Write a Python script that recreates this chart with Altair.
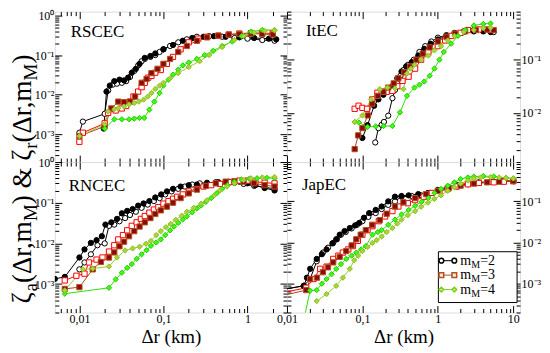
import altair as alt
import pandas as pd

SERIF = "Liberation Serif"
SERIES = ["m2_a", "m2_r", "m3_a", "m3_r", "m4_a", "m4_r"]
LINE_COLORS = ["#000000", "#000000", "#ff0000", "#a8461a", "#2ee000", "#9ccc2a"]
STROKE_COLORS = ["#000000", "#000000", "#ff0000", "#b3521e", "#25c800", "#8fbf20"]
FILL_COLORS = ["#ffffff", "#000000", "#ffffff", "#8b0a0a", "#3cff14", "#a6d63a"]
SHAPES = ["circle", "circle", "square", "square", "diamond", "diamond"]

# ---------------- RSCEC (top left) ----------------
RSCEC = [
    ([0.01, 0.011, 0.02, 0.022, 0.025, 0.028, 0.032, 0.036, 0.04, 0.045, 0.05, 0.055, 0.06, 0.07, 0.08, 0.09, 0.1, 0.12, 0.15, 0.19, 0.25, 0.35, 0.5, 0.7, 1.0, 1.5, 2.1],
     [0.0011, 0.0021, 0.0033, 0.0128, 0.018, 0.019, 0.02, 0.022, 0.028, 0.04, 0.055, 0.07, 0.08, 0.09, 0.1, 0.12, 0.14, 0.17, 0.21, 0.25, 0.29, 0.3, 0.29, 0.27, 0.26, 0.24, 0.23]),
    ([0.0195, 0.021, 0.023, 0.026, 0.03, 0.034, 0.038, 0.042, 0.047, 0.052, 0.06, 0.07, 0.08, 0.1, 0.13, 0.17, 0.22, 0.3, 0.4, 0.55, 0.8, 1.2, 1.8, 2.2],
     [0.0014, 0.012, 0.017, 0.022, 0.024, 0.023, 0.027, 0.036, 0.045, 0.06, 0.085, 0.095, 0.11, 0.14, 0.18, 0.23, 0.27, 0.29, 0.3, 0.29, 0.28, 0.27, 0.26, 0.25]),
    ([0.01, 0.011, 0.02, 0.022, 0.027, 0.032, 0.036, 0.04, 0.044, 0.05, 0.055, 0.06, 0.066, 0.072, 0.08, 0.093, 0.11, 0.13, 0.16, 0.2, 0.26, 0.33, 0.45, 0.6, 0.8, 1.1, 1.5, 2.0],
     [0.00065, 0.0011, 0.0019, 0.0035, 0.004, 0.0045, 0.0052, 0.0067, 0.009, 0.012, 0.0155, 0.02, 0.027, 0.03, 0.036, 0.042, 0.06, 0.09, 0.14, 0.21, 0.26, 0.29, 0.31, 0.33, 0.35, 0.36, 0.36, 0.35]),
    ([0.01, 0.02, 0.024, 0.029, 0.034, 0.04, 0.046, 0.055, 0.063, 0.072, 0.085, 0.1, 0.12, 0.15, 0.19, 0.25, 0.33, 0.45, 0.6, 0.8, 1.1, 1.5, 2.0],
     [0.0009, 0.0016, 0.0045, 0.0067, 0.0065, 0.0067, 0.009, 0.02, 0.025, 0.035, 0.045, 0.06, 0.08, 0.12, 0.17, 0.23, 0.28, 0.31, 0.33, 0.34, 0.35, 0.34, 0.33]),
    ([0.02, 0.026, 0.032, 0.039, 0.045, 0.052, 0.059, 0.068, 0.078, 0.09, 0.1, 0.115, 0.13, 0.15, 0.17, 0.2, 0.25, 0.31, 0.39, 0.5, 0.66, 0.85, 1.1, 1.5, 2.1],
     [0.0014, 0.0024, 0.0024, 0.0024, 0.0025, 0.0026, 0.0026, 0.0042, 0.0067, 0.011, 0.017, 0.024, 0.032, 0.043, 0.055, 0.065, 0.08, 0.1, 0.128, 0.17, 0.22, 0.3, 0.39, 0.43, 0.43]),
    ([0.01, 0.02, 0.022, 0.026, 0.029, 0.034, 0.039, 0.045, 0.051, 0.058, 0.065, 0.072, 0.08, 0.09, 0.1, 0.12, 0.15, 0.2, 0.27, 0.35, 0.5, 0.7, 0.9, 1.2, 1.6, 2.1],
     [0.0009, 0.0018, 0.0038, 0.0043, 0.0046, 0.005, 0.0057, 0.0062, 0.0067, 0.0075, 0.009, 0.011, 0.014, 0.017, 0.02, 0.026, 0.035, 0.05, 0.07, 0.1, 0.16, 0.24, 0.3, 0.37, 0.41, 0.42]),
]

# ---------------- ItEC (top right) ----------------
ITEC = [
    ([0.148, 0.163, 0.18, 0.193, 0.22, 0.25, 0.27, 0.29, 0.32, 0.35, 0.4, 0.48, 0.57, 0.68, 0.82, 1.0, 1.3, 1.66, 2.2, 3.0, 4.0, 5.5],
     [0.0028, 0.0052, 0.006, 0.0068, 0.0089, 0.019, 0.027, 0.036, 0.05, 0.064, 0.08, 0.1, 0.14, 0.18, 0.22, 0.26, 0.29, 0.32, 0.34, 0.36, 0.35, 0.33]),
    ([0.1, 0.117, 0.143, 0.163, 0.19, 0.22, 0.25, 0.29, 0.33, 0.38, 0.45, 0.55, 0.66, 0.8, 1.0, 1.3, 1.7, 2.2, 3.0, 4.0, 5.0],
     [0.0034, 0.0059, 0.0137, 0.018, 0.022, 0.026, 0.032, 0.045, 0.06, 0.075, 0.09, 0.12, 0.16, 0.2, 0.24, 0.28, 0.31, 0.33, 0.34, 0.34, 0.33]),
    ([0.079, 0.089, 0.1, 0.115, 0.135, 0.158, 0.18, 0.21, 0.25, 0.29, 0.34, 0.41, 0.5, 0.6, 0.75, 1.0, 1.25, 1.5, 2.0, 2.5, 3.5, 5.0],
     [0.012, 0.0137, 0.0125, 0.012, 0.018, 0.024, 0.025, 0.025, 0.026, 0.032, 0.04, 0.048, 0.068, 0.1, 0.14, 0.18, 0.23, 0.28, 0.32, 0.36, 0.37, 0.36]),
    ([0.079, 0.088, 0.1, 0.118, 0.135, 0.16, 0.19, 0.22, 0.26, 0.3, 0.36, 0.43, 0.52, 0.63, 0.78, 1.0, 1.3, 1.7, 2.3, 3.2, 4.5, 5.5],
     [0.0021, 0.0038, 0.0052, 0.009, 0.015, 0.021, 0.025, 0.03, 0.036, 0.045, 0.058, 0.075, 0.1, 0.13, 0.17, 0.22, 0.27, 0.31, 0.34, 0.36, 0.37, 0.36]),
    ([0.079, 0.09, 0.117, 0.15, 0.19, 0.25, 0.315, 0.39, 0.49, 0.57, 0.66, 0.78, 0.9, 1.05, 1.2, 1.5, 1.85, 2.3, 3.0, 4.0, 5.0],
     [0.0068, 0.0066, 0.0055, 0.0056, 0.0057, 0.0057, 0.0103, 0.021, 0.03, 0.034, 0.039, 0.05, 0.068, 0.1, 0.14, 0.2, 0.28, 0.36, 0.44, 0.47, 0.48]),
    ([0.079, 0.1, 0.13, 0.17, 0.215, 0.27, 0.35, 0.39, 0.44, 0.49, 0.6, 0.75, 0.9, 1.1, 1.35, 1.66, 2.2, 3.0, 4.0, 5.0],
     [0.0068, 0.009, 0.018, 0.028, 0.03, 0.029, 0.028, 0.055, 0.068, 0.08, 0.1, 0.12, 0.15, 0.18, 0.23, 0.28, 0.33, 0.36, 0.39, 0.4]),
]

# ---------------- RNCEC (bottom left) ----------------
RNCEC = [
    ([0.01, 0.0115, 0.0137, 0.0164, 0.02, 0.0225, 0.026, 0.03, 0.035, 0.04, 0.047, 0.055, 0.065, 0.077, 0.09, 0.105, 0.125, 0.15, 0.18, 0.22, 0.27, 0.33, 0.42, 0.55, 0.7, 0.9, 1.2, 1.6, 2.1],
     [0.0023, 0.0034, 0.0054, 0.009, 0.01, 0.027, 0.029, 0.035, 0.042, 0.05, 0.06, 0.075, 0.09, 0.11, 0.13, 0.16, 0.19, 0.22, 0.25, 0.28, 0.3, 0.31, 0.32, 0.32, 0.31, 0.29, 0.26, 0.24, 0.22]),
    ([0.0051, 0.0067, 0.01, 0.0115, 0.0137, 0.016, 0.0185, 0.0204, 0.024, 0.028, 0.032, 0.037, 0.043, 0.05, 0.058, 0.068, 0.08, 0.094, 0.11, 0.13, 0.16, 0.2, 0.25, 0.33, 0.45, 0.6, 0.8, 1.0, 1.24, 1.6, 2.1],
     [0.00134, 0.0015, 0.0045, 0.0071, 0.0103, 0.012, 0.015, 0.029, 0.033, 0.04, 0.055, 0.063, 0.07, 0.085, 0.096, 0.11, 0.135, 0.16, 0.19, 0.22, 0.25, 0.27, 0.28, 0.3, 0.32, 0.33, 0.33, 0.3, 0.27, 0.23, 0.2]),
    ([0.0067, 0.0092, 0.0115, 0.013, 0.016, 0.0188, 0.0225, 0.026, 0.029, 0.033, 0.037, 0.042, 0.048, 0.054, 0.06, 0.068, 0.077, 0.087, 0.1, 0.115, 0.13, 0.146, 0.17, 0.2, 0.25, 0.3, 0.37, 0.47, 0.6, 0.8, 1.0, 1.24, 1.6, 2.1],
     [0.00123, 0.0016, 0.0018, 0.0034, 0.004, 0.0045, 0.0063, 0.009, 0.0125, 0.016, 0.021, 0.027, 0.033, 0.04, 0.047, 0.057, 0.068, 0.078, 0.095, 0.11, 0.125, 0.14, 0.16, 0.19, 0.22, 0.25, 0.27, 0.29, 0.32, 0.35, 0.35, 0.33, 0.31, 0.3]),
    ([0.0067, 0.01, 0.0144, 0.018, 0.0225, 0.026, 0.03, 0.034, 0.039, 0.045, 0.052, 0.06, 0.07, 0.08, 0.093, 0.11, 0.13, 0.16, 0.2, 0.25, 0.32, 0.42, 0.55, 0.7, 0.9, 1.2, 1.6, 2.1],
     [0.00076, 0.00084, 0.0023, 0.0035, 0.0045, 0.006, 0.0085, 0.011, 0.015, 0.02, 0.026, 0.033, 0.042, 0.053, 0.065, 0.08, 0.1, 0.13, 0.17, 0.21, 0.26, 0.3, 0.33, 0.34, 0.33, 0.3, 0.27, 0.25]),
    ([0.0067, 0.0225, 0.027, 0.032, 0.037, 0.042, 0.048, 0.055, 0.063, 0.071, 0.082, 0.093, 0.105, 0.12, 0.134, 0.15, 0.17, 0.19, 0.22, 0.25, 0.28, 0.32, 0.37, 0.43, 0.5, 0.58, 0.7, 0.85, 1.05, 1.3, 1.7, 2.1],
     [0.00058, 0.00081, 0.0013, 0.0019, 0.0025, 0.0031, 0.0042, 0.0054, 0.0068, 0.0087, 0.0105, 0.0125, 0.016, 0.021, 0.026, 0.032, 0.039, 0.046, 0.058, 0.072, 0.085, 0.105, 0.13, 0.17, 0.22, 0.27, 0.33, 0.37, 0.39, 0.4, 0.41, 0.4]),
    ([0.0067, 0.011, 0.0144, 0.0225, 0.028, 0.035, 0.043, 0.052, 0.062, 0.071, 0.082, 0.093, 0.107, 0.122, 0.14, 0.165, 0.19, 0.23, 0.28, 0.33, 0.4, 0.47, 0.57, 0.7, 0.9, 1.1, 1.5, 2.1],
     [0.0007, 0.0023, 0.0024, 0.0027, 0.0045, 0.0067, 0.0075, 0.0083, 0.0098, 0.0115, 0.016, 0.02, 0.025, 0.03, 0.038, 0.048, 0.06, 0.075, 0.095, 0.115, 0.15, 0.2, 0.25, 0.3, 0.36, 0.4, 0.42, 0.43]),
]

# ---------------- JapEC (bottom right) ----------------
JAPEC = [
    ([0.0055, 0.0167, 0.0203, 0.0248, 0.03, 0.035, 0.041, 0.046, 0.052, 0.06, 0.072, 0.085, 0.1, 0.12, 0.15, 0.18, 0.22, 0.27, 0.33, 0.45, 0.6, 0.8, 1.0, 1.35, 1.8, 2.5, 3.5, 5.0, 7.0, 10.0],
     [0.00062, 0.00089, 0.0013, 0.0035, 0.0057, 0.0075, 0.0098, 0.012, 0.0155, 0.018, 0.022, 0.027, 0.033, 0.042, 0.052, 0.065, 0.082, 0.1, 0.13, 0.135, 0.14, 0.16, 0.18, 0.2, 0.23, 0.26, 0.28, 0.3, 0.31, 0.31]),
    ([0.0055, 0.0167, 0.0184, 0.0203, 0.0248, 0.029, 0.0335, 0.04, 0.045, 0.05, 0.058, 0.068, 0.08, 0.091, 0.105, 0.123, 0.15, 0.18, 0.22, 0.27, 0.33, 0.41, 0.55, 0.74, 1.0, 1.35, 1.8, 2.5, 3.5, 5.5, 7.5, 10.0],
     [0.00062, 0.00089, 0.0014, 0.0023, 0.004, 0.0052, 0.0068, 0.0095, 0.012, 0.0155, 0.019, 0.0225, 0.026, 0.03, 0.04, 0.052, 0.062, 0.075, 0.1, 0.13, 0.135, 0.14, 0.15, 0.16, 0.19, 0.22, 0.25, 0.27, 0.29, 0.3, 0.31, 0.31]),
    ([0.0055, 0.018, 0.0225, 0.0275, 0.0335, 0.041, 0.048, 0.055, 0.065, 0.075, 0.087, 0.1, 0.117, 0.136, 0.165, 0.2, 0.25, 0.3, 0.4, 0.5, 0.65, 0.83, 1.05, 1.35, 1.8, 2.5, 3.5, 5.5, 7.5, 10.0],
     [0.0005, 0.0008, 0.0013, 0.0023, 0.0026, 0.004, 0.0048, 0.0057, 0.0068, 0.0082, 0.011, 0.0155, 0.02, 0.025, 0.033, 0.043, 0.058, 0.075, 0.09, 0.107, 0.13, 0.16, 0.18, 0.2, 0.23, 0.26, 0.28, 0.29, 0.3, 0.31]),
    ([0.0055, 0.018, 0.0203, 0.025, 0.03, 0.035, 0.041, 0.05, 0.061, 0.072, 0.083, 0.095, 0.111, 0.135, 0.17, 0.21, 0.27, 0.35, 0.5, 0.7, 1.0, 1.4, 2.0, 3.0, 4.5, 6.5, 10.0],
     [0.00042, 0.0007, 0.0013, 0.0014, 0.0019, 0.0025, 0.0033, 0.0045, 0.0062, 0.0085, 0.012, 0.0155, 0.02, 0.027, 0.035, 0.05, 0.075, 0.095, 0.12, 0.15, 0.18, 0.21, 0.24, 0.27, 0.29, 0.3, 0.31]),
    ([0.0165, 0.0203, 0.0248, 0.029, 0.0335, 0.039, 0.045, 0.052, 0.061, 0.072, 0.083, 0.096, 0.111, 0.136, 0.16, 0.18, 0.22, 0.27, 0.33, 0.41, 0.5, 0.61, 0.75, 0.9, 1.1, 1.35, 1.65, 2.0, 2.5, 3.0, 4.0, 5.5, 8.0, 10.0],
     [0.00012, 0.00068, 0.0007, 0.001, 0.0013, 0.0017, 0.0023, 0.003, 0.004, 0.0048, 0.0057, 0.0068, 0.0082, 0.0155, 0.018, 0.02, 0.027, 0.036, 0.048, 0.062, 0.078, 0.098, 0.12, 0.16, 0.2, 0.24, 0.29, 0.35, 0.38, 0.4, 0.41, 0.4, 0.37, 0.36]),
    ([0.0248, 0.0335, 0.045, 0.055, 0.068, 0.078, 0.088, 0.1, 0.117, 0.136, 0.155, 0.18, 0.21, 0.25, 0.29, 0.33, 0.4, 0.5, 0.6, 0.74, 0.9, 1.1, 1.35, 1.65, 2.0, 2.5, 3.0, 3.7, 5.0, 6.5, 8.0, 10.0],
     [0.00038, 0.00056, 0.00089, 0.0014, 0.0023, 0.0037, 0.0048, 0.0062, 0.0078, 0.0098, 0.0115, 0.014, 0.018, 0.0225, 0.029, 0.036, 0.046, 0.058, 0.074, 0.093, 0.115, 0.14, 0.18, 0.22, 0.27, 0.32, 0.36, 0.38, 0.39, 0.38, 0.37, 0.36]),
]

LEGEND_LABELS = ["2", "3", "4"]
LEGEND_LINE = ["#000000", "#b4501e", "#7ccc1c"]
LEGEND_FILL = ["#ffffff", "#ffe8e8", "#ccff99"]
LEGEND_SHAPE = ["circle", "square", "diamond"]

MAJOR, MINOR = 7, 4
XEXPR = "datum.value < 0.05 ? '0,01' : datum.value < 0.5 ? '0,1' : datum.value < 5 ? '1' : '10'"
YEXPR = "datum.value > 0.5 ? '10\u2070' : datum.value > 0.05 ? '10\u207b\u00b9' : datum.value > 0.005 ? '10\u207b\u00b2' : '10\u207b\u00b3'"


def decades(lo, hi):
    return [10.0 ** k for k in range(-5, 3) if lo <= 10.0 ** k <= hi]


def minors(lo, hi):
    return [m * 10.0 ** k for k in range(-5, 3) for m in range(2, 10) if lo <= m * 10.0 ** k <= hi]


def axis(orient, values, size, labels, kind, title=None):
    kw = dict(orient=orient, values=values, tickSize=size, offset=-size, domain=False,
              grid=False, labels=labels, ticks=True, tickColor="black", tickWidth=1,
              title=title, labelPadding=1, labelFont=SERIF, labelFontSize=12,
              labelColor="black", titleFont=SERIF, titleFontSize=19,
              titleFontWeight="normal", titleColor="black", titlePadding=3,
              labelFlush=False, labelOverlap=False)
    if labels:
        kw["labelExpr"] = XEXPR if kind == "x" else YEXPR
    return alt.Axis(**kw)


def frame(series):
    rows = []
    for s, (xs, ys) in zip(SERIES, series):
        for x, y in zip(xs, ys):
            rows.append({"x": x, "y": y, "s": s})
    return pd.DataFrame(rows)


def one(v):
    return pd.DataFrame({"t": [v]})


def text_layer(txt, x, y, size, align="left", baseline="alphabetic", angle=0):
    kw = dict(align=align, baseline=baseline, font=SERIF, fontSize=size, color="black")
    if angle:
        kw["angle"] = angle
    return alt.Chart(one(txt)).mark_text(**kw).encode(
        x=alt.value(x), y=alt.value(y), text="t:N")


def panel(series, name, name_xy, xdom, ydom, w, h, bottom, right, extra=()):
    df = frame(series)
    xs = alt.Scale(type="log", domain=xdom, nice=False)
    ys = alt.Scale(type="log", domain=ydom, nice=False)
    xmaj, xmin = decades(*xdom), minors(*xdom)
    ymaj, ymin = decades(*ydom), minors(*ydom)
    lab_side = "right" if right else "left"
    other_side = "left" if right else "right"

    lines = alt.Chart(df).mark_line(clip=True, strokeWidth=1).encode(
        x=alt.X("x:Q", scale=xs, axis=axis("bottom", xmaj, MAJOR, bottom, "x",
                                            "\u0394r (km)" if bottom else None)),
        y=alt.Y("y:Q", scale=ys, axis=axis(lab_side, ymaj, MAJOR, True, "y")),
        color=alt.Color("s:N", scale=alt.Scale(domain=SERIES, range=LINE_COLORS), legend=None),
    )
    pts = alt.Chart(df).mark_point(filled=True, clip=True, size=28, strokeWidth=1, opacity=1).encode(
        x=alt.X("x:Q", scale=xs, axis=axis("bottom", xmin, MINOR, False, "x")),
        y=alt.Y("y:Q", scale=ys, axis=axis(lab_side, ymin, MINOR, False, "y")),
        shape=alt.Shape("s:N", scale=alt.Scale(domain=SERIES, range=SHAPES), legend=None),
        fill=alt.Fill("s:N", scale=alt.Scale(domain=SERIES, range=FILL_COLORS), legend=None),
        stroke=alt.Stroke("s:N", scale=alt.Scale(domain=SERIES, range=STROKE_COLORS), legend=None),
    )
    g1 = alt.Chart(df).mark_point(opacity=0, clip=True).encode(
        x=alt.X("x:Q", scale=xs, axis=axis("top", xmaj, MAJOR, False, "x")),
        y=alt.Y("y:Q", scale=ys, axis=axis(other_side, ymaj, MAJOR, False, "y")),
    )
    g2 = alt.Chart(df).mark_point(opacity=0, clip=True).encode(
        x=alt.X("x:Q", scale=xs, axis=axis("top", xmin, MINOR, False, "x")),
        y=alt.Y("y:Q", scale=ys, axis=axis(other_side, ymin, MINOR, False, "y")),
    )
    lbl = text_layer(name, name_xy[0], name_xy[1], 17, baseline="middle")
    return alt.layer(lines, pts, g1, g2, lbl, *extra).properties(width=w, height=h).resolve_axis(
        x="independent", y="independent")


W_LEFT, W_RIGHT = 233, 234
H_TOP, H_BOTTOM = 151, 151


# ---- legend (bottom-right panel) ----
def legend_layers(w):
    out = [alt.Chart(one("box")).mark_rect(fill="white", stroke="black", strokeWidth=1).encode(
        x=alt.value(w - 82), x2=alt.value(w - 3), y=alt.value(90), y2=alt.value(141))]
    for i, lab in enumerate(LEGEND_LABELS):
        ry = 99 + 14.5 * i
        out.append(alt.Chart(one(lab)).mark_rule(color=LEGEND_LINE[i], strokeWidth=1).encode(
            x=alt.value(w - 79), x2=alt.value(w - 66), y=alt.value(ry)))
        for sx in (w - 79, w - 66):
            out.append(alt.Chart(one(lab)).mark_point(
                shape=LEGEND_SHAPE[i], filled=True, fill=LEGEND_FILL[i], stroke=LEGEND_LINE[i],
                strokeWidth=1.5, size=22, opacity=1).encode(x=alt.value(sx), y=alt.value(ry)))
        out.append(text_layer("m", w - 60, ry + 4, 14))
        out.append(text_layer("M", w - 49, ry + 7, 10))
        out.append(text_layer("=" + lab, w - 40, ry + 4, 14))
    return out


# ---- rotated y title (placed left of the bottom-left panel) ----
EM = {"\u03b6": 0.45, "a": 0.444, "(": 0.333, "\u0394": 0.612, "r": 0.333, ",": 0.25,
      "m": 0.778, "M": 0.889, ")": 0.333, " ": 0.25, "&": 0.778}
TITLE_PIECES = [("\u03b6", False), ("a", True), ("(\u0394r,m", False), ("M", True),
                (") & \u03b6", False), ("r", True), ("(\u0394r,m", False), ("M", True), (")", False)]


def title_layers(size=27, sub=19, base_x=-24, start_y=142):
    out, pos = [], 0.0
    for txt, is_sub in TITLE_PIECES:
        fs = sub if is_sub else size
        out.append(text_layer(txt, base_x + (6 if is_sub else 0), start_y - pos, fs, angle=270))
        pos += sum(EM.get(c, 0.5) for c in txt) * fs
    return out


TL = panel(RSCEC, "RSCEC", (16, 20), (0.0051, 2.95), (0.0002, 1.25), W_LEFT, H_TOP, False, False)
TR = panel(ITEC, "ItEC", (19, 19), (0.01, 12.3), (0.0012, 0.8), W_RIGHT, H_TOP, False, True)
BL = panel(RNCEC, "RNCEC", (14, 24), (0.0051, 2.95), (0.0002, 1.0), W_LEFT, H_BOTTOM, True, False,
           extra=title_layers())
BR = panel(JAPEC, "JapEC", (15, 23), (0.01, 12.3), (0.0002, 0.9), W_RIGHT, H_BOTTOM, True, True,
           extra=legend_layers(W_RIGHT))

chart = alt.concat(TL, TR, BL, BR, columns=2, spacing=0, bounds="flush").properties(
    padding={"left": 0, "top": 0, "right": 0, "bottom": 0}
).configure_view(stroke="black", strokeWidth=1.4).configure(font=SERIF)

chart.save("out.html", embed_options={"renderer": "svg", "actions": False})
